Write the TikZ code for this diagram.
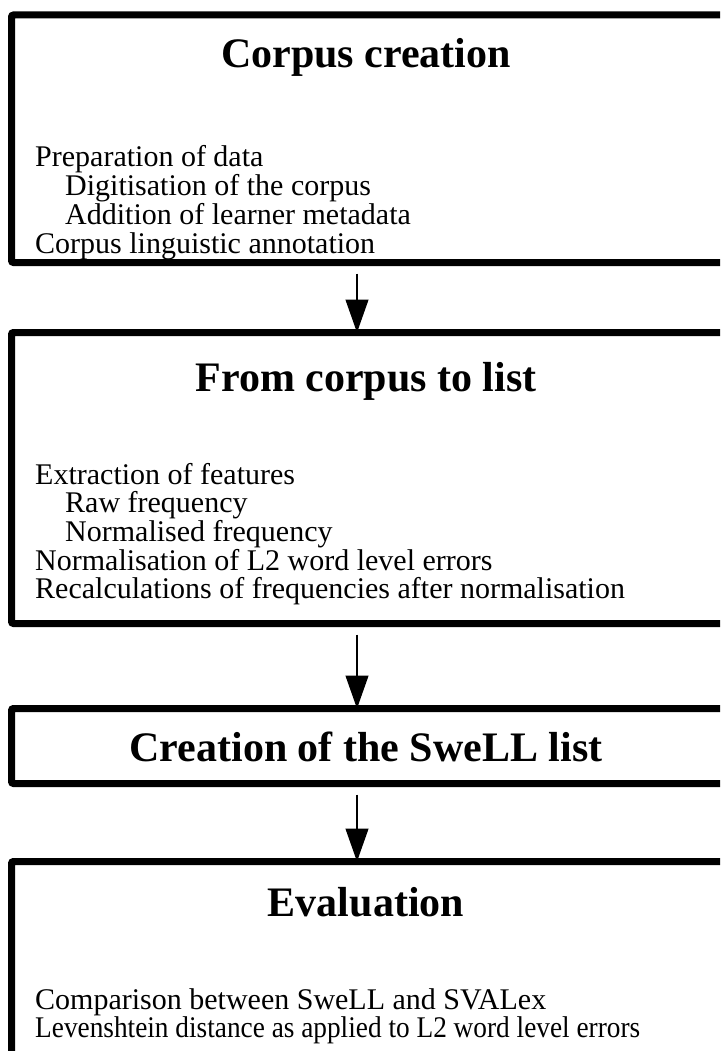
\documentclass[tikz,border=0pt]{standalone}
\usepackage{fontspec}
\setmainfont{Liberation Serif}
\usetikzlibrary{arrows.meta}
\begin{document}
\begin{tikzpicture}[x=1pt,y=-1pt,
  box/.style={draw=black,line width=7pt,rounded corners=2pt,anchor=north west,inner sep=0pt,outer sep=0pt,minimum width=740pt},
  ttl/.style={anchor=base,font=\fontsize{42}{48}\selectfont\bfseries,inner sep=0pt},
  itm/.style={anchor=base west,font=\fontsize{30}{34}\selectfont,inner sep=0pt},
  arr/.style={line width=1.2pt,-{Triangle[width=23pt,length=33pt]}}]
\useasboundingbox (0,0) rectangle (720,1051);
\clip (0,0) rectangle (720,1051);
% boxes
\node[box,minimum height=247.5pt] (box1) at (11.5,15) {};
\node[box,minimum height=291pt] (box2) at (11.5,332.5) {};
\node[box,minimum height=75pt] (box3) at (11.5,708.5) {};
\node[box,minimum height=220pt] (box4) at (11.5,861.5) {};
% titles
\node[ttl] (t1) at (366,68) {Corpus creation};
\node[ttl] (t2) at (366,391) {From corpus to list};
\node[ttl] (t3) at (366,761) {Creation of the SweLL list};
\node[ttl] (t4) at (366,916) {Evaluation};
% box 1 items
\node[itm] (a1) at (35,167) {Preparation of data};
\node[itm] (a2) at (65,195.7) {Digitisation of the corpus};
\node[itm] (a3) at (65,224.4) {Addition of learner metadata};
\node[itm] (a4) at (35,253) {Corpus linguistic annotation};
% box 2 items
\node[itm] (b1) at (35,484) {Extraction of features};
\node[itm] (b2) at (65,512.7) {Raw frequency};
\node[itm] (b3) at (65,541.4) {Normalised frequency};
\node[itm] (b4) at (35,570.1) {Normalisation of L2 word level errors};
\node[itm] (b5) at (35,598.8) {Recalculations of frequencies after normalisation};
% box 4 items
\node[itm] (c1) at (35,1009) {Comparison between SweLL and SVALex};
\node[itm] (c2) at (35,1037.7) {\scalebox{0.91}[1]{Levenshtein distance as applied to L2 word level errors}};
% arrows
\coordinate (ax) at (357,0);
\draw[arr] ([yshift=-11pt]box1.south -| ax) -- (box2.north -| ax);
\draw[arr] ([yshift=-11pt]box2.south -| ax) -- (box3.north -| ax);
\draw[arr] ([yshift=-11pt]box3.south -| ax) -- (box4.north -| ax);
\end{tikzpicture}
\end{document}
